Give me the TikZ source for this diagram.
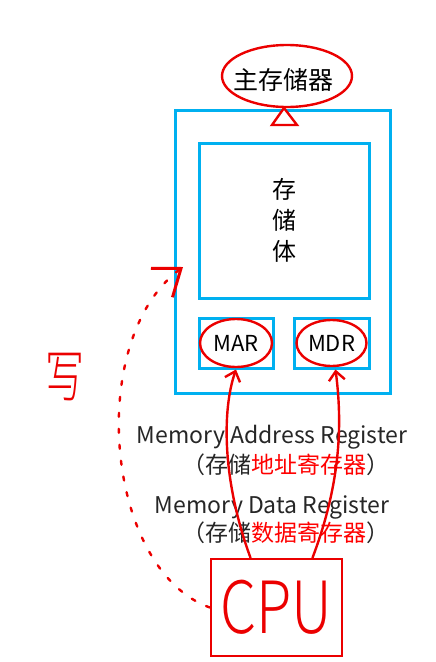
\documentclass[tikz,border=0pt]{standalone}
\usepackage{fontspec}
\usetikzlibrary{arrows.meta}
\newfontfamily\cjk{Noto Sans CJK SC}
\newfontfamily\cjkthin{Noto Sans CJK SC Light}
\definecolor{boxblue}{RGB}{0,176,240}
\definecolor{pen}{RGB}{235,0,0}
\tikzset{>=stealth}
\tikzset{box/.style={draw=boxblue, line width=3pt}}
\tikzset{ink/.style={draw=pen, line width=2.4pt, line cap=round}}
\tikzset{lbl/.style={font=\cjk\fontsize{23}{25}\selectfont, text=black!85}}

\begin{document}
\begin{tikzpicture}[x=1pt, y=-1pt, font=\cjk]
    \useasboundingbox (0,0) rectangle (436,662);
    \node (mem) at (282.5,251.5) [box, minimum width=215pt, minimum height=283pt] {};
    \node (body) at (284,220.5) [box, minimum width=170pt, minimum height=155pt, align=center, font=\cjk\fontsize{24}{31}\selectfont] {存\\储\\体};
    \node (mar) at (236,343) [box, minimum width=74pt, minimum height=50pt, font=\cjk\fontsize{22}{24}\selectfont] {MAR};
    \node (mdr) at (331.5,343) [box, minimum width=75pt, minimum height=50pt, font=\cjk\fontsize{22}{24}\selectfont] {MDR};
    \node (main) at (283,80) [font=\cjk\fontsize{25}{27}\selectfont] {主存储器};
    % handwritten marks
    \draw [ink] (287,76) ellipse (65pt and 31pt);
    \draw [ink, fill=white] (272,125) -- (284,108) -- (297,125) -- cycle;
    \draw [ink] (mar) ellipse (36pt and 24pt);
    \draw [ink] (mdr) ellipse (35pt and 23pt);
    \node (addr) at (272,437) [lbl] {Memory Address Register};
    \node (addrcn) at (286,465) [lbl] {（存储\textcolor{red}{地址寄存器}）};
    \node (data) at (272,507) [lbl] {Memory Data Register};
    \node (datacn) at (286,533) [lbl] {（存储\textcolor{red}{数据寄存器}）};
    \node (cpu) at (276.5,607.5) [ink, minimum width=131pt, minimum height=97pt, text=pen, font=\cjkthin\fontsize{72}{72}\selectfont] {\scalebox{0.8}[1]{CPU}};
    \node (xie) at (65,377) [text=pen, font=\cjkthin\fontsize{52}{52}\selectfont] {\scalebox{0.75}[1.1]{写}};
    \coordinate (tip) at (183,267);
    \draw [ink, -{Straight Barb[length=9pt, width=16pt]}] ([xshift=-26pt]cpu.north) .. controls (222,480) and (222,410) .. (mar.south);
    \draw [ink, -{Straight Barb[length=9pt, width=16pt]}] ([xshift=36pt]cpu.north) .. controls (342,480) and (342,420) .. ([xshift=4pt]mdr.south);
    \draw [ink, dash pattern=on 4pt off 12pt, -{Straight Barb[length=24pt, width=36pt, line width=3pt]}] (cpu.west) .. controls (105,570) and (85,340) .. (tip);
\end{tikzpicture}
\end{document}
